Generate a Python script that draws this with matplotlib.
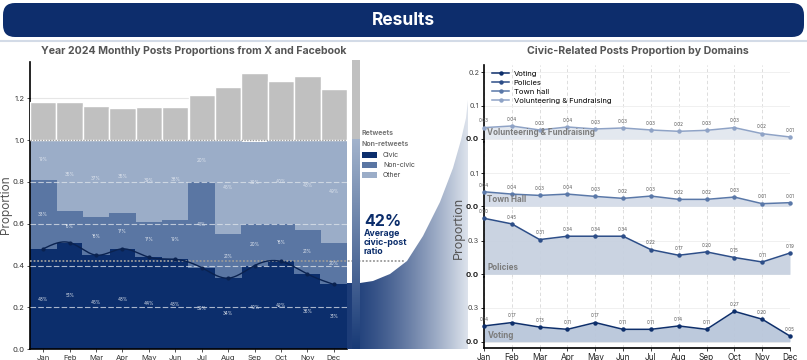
import numpy as np
import matplotlib
matplotlib.use("Agg")
import matplotlib.pyplot as plt
from matplotlib.patches import FancyBboxPatch, Rectangle, Polygon
from matplotlib.lines import Line2D
from matplotlib.colors import to_rgb

plt.rcParams['font.family'] = ['Inter', 'DejaVu Sans']

# ---------------- data ----------------
months = ['Jan', 'Feb', 'Mar', 'Apr', 'May', 'Jun', 'Jul', 'Aug', 'Sep', 'Oct', 'Nov', 'Dec']
civic = [0.48, 0.51, 0.45, 0.48, 0.44, 0.43, 0.39, 0.34, 0.40, 0.42, 0.36, 0.31]
noncivic = [0.33, 0.15, 0.18, 0.17, 0.17, 0.19, 0.41, 0.21, 0.20, 0.18, 0.21, 0.20]
other = [0.19, 0.35, 0.37, 0.35, 0.39, 0.38, 0.20, 0.45, 0.39, 0.40, 0.43, 0.49]
retweets = [0.182, 0.181, 0.165, 0.154, 0.156, 0.160, 0.214, 0.254, 0.322, 0.284, 0.308, 0.244]
avg_civic = 0.42

volunteering = [0.034, 0.039, 0.027, 0.036, 0.030, 0.033, 0.027, 0.023, 0.026, 0.034, 0.016, 0.006]
town_hall = [0.044, 0.037, 0.033, 0.037, 0.030, 0.024, 0.031, 0.021, 0.021, 0.028, 0.008, 0.011]
policies = [0.50, 0.45, 0.31, 0.34, 0.34, 0.34, 0.22, 0.17, 0.20, 0.15, 0.11, 0.19]
voting = [0.14, 0.17, 0.13, 0.11, 0.17, 0.11, 0.11, 0.14, 0.11, 0.27, 0.20, 0.05]

# ---------------- styles ----------------
NAVY = '#0b2d6b'
C_CIVIC = '#0c2e6c'
C_NONCIVIC = '#5a76a3'
C_OTHER = '#9badc8'
C_RT = '#c0c0c0'
TITLE_C = '#555555'

W, H = 807, 360
fig = plt.figure(figsize=(W / 100, H / 100), dpi=100)


def px_axes(x0, y0, x1, y1, **kw):
    return fig.add_axes([x0 / W, 1 - y1 / H, (x1 - x0) / W, (y1 - y0) / H], **kw)


def natural_cubic(x, y, xs):
    x = np.asarray(x, float); y = np.asarray(y, float)
    n = len(x); h = np.diff(x)
    A = np.zeros((n, n)); b = np.zeros(n)
    A[0, 0] = 1; A[-1, -1] = 1
    for i in range(1, n - 1):
        A[i, i - 1] = h[i - 1]; A[i, i] = 2 * (h[i - 1] + h[i]); A[i, i + 1] = h[i]
        b[i] = 3 * ((y[i + 1] - y[i]) / h[i] - (y[i] - y[i - 1]) / h[i - 1])
    c = np.linalg.solve(A, b)
    bb = (y[1:] - y[:-1]) / h - h * (2 * c[:-1] + c[1:]) / 3
    d = (c[1:] - c[:-1]) / (3 * h)
    idx = np.clip(np.searchsorted(x, xs) - 1, 0, n - 2)
    dx = xs - x[idx]
    return y[idx] + bb[idx] * dx + c[idx] * dx ** 2 + d[idx] * dx ** 3


# ---------------- left chart ----------------
ax = px_axes(30, 62, 347, 349.3)
ax.set_zorder(1)
x = np.arange(len(months))
civic_a = np.array(civic); nc_a = np.array(noncivic); ot_a = np.array(other)

ax.axhline(1.2, color='#e6e6e6', lw=0.8, zorder=0)
BW = 1.03
ax.bar(x, civic_a, width=BW, color=C_CIVIC, linewidth=0, zorder=2)
ax.bar(x, nc_a, bottom=civic_a, width=BW, color=C_NONCIVIC, linewidth=0, zorder=2)
ax.bar(x, ot_a, bottom=civic_a + nc_a, width=BW, color=C_OTHER, linewidth=0, zorder=1.9)
ax.bar(x, retweets, bottom=1.0, width=1.0, color=C_RT, edgecolor='white', linewidth=1.0, zorder=3)

for yv in [0.2, 0.4, 0.6, 0.8]:
    ax.axhline(yv, color='#dfe4ec', lw=0.8, ls=(0, (5, 2)), alpha=0.75, zorder=4)
ax.axhline(1.0, color='#9a9a9a', lw=1.0, ls=(0, (1, 1)), zorder=5)
ax.plot([-0.5, 13.65], [avg_civic, avg_civic], color='#9a9a9a', lw=1.3,
        ls=(0, (1, 1)), zorder=5, clip_on=False)

xs = np.linspace(0, 11, 300)
ax.plot(xs, natural_cubic(x, civic_a, xs), color='#0a2250', lw=1.0, zorder=6)
ax.plot(x, civic_a, 'o', color='#0a2250', ms=2, zorder=6)

lab_c = '#dfe5ee'
for i in range(len(months)):
    ax.text(i, civic_a[i] / 2, f"{round(civic_a[i] * 100)}%", ha='center', va='center',
            fontsize=3.3, color=lab_c, zorder=7)
    ax.text(i, civic_a[i] + nc_a[i] / 2, f"{round(nc_a[i] * 100)}%", ha='center', va='center',
            fontsize=3.3, color=lab_c, zorder=7)
    ax.text(i, civic_a[i] + nc_a[i] + ot_a[i] / 2, f"{round(ot_a[i] * 100)}%", ha='center',
            va='center', fontsize=3.3, color=lab_c, zorder=7)

ax.set_xlim(-0.5, 11.5)
ax.set_ylim(0, 1.373)
ax.set_xticks(x)
ax.set_xticklabels(months)
ax.set_yticks([0.0, 0.2, 0.4, 0.6, 0.8, 1.0, 1.2])
ax.set_yticklabels(['0.0', '0.2', '0.4', '0.6', '0.8', '1.0', '1.2'])
ax.tick_params(axis='both', labelsize=5.5, colors='#333333', length=2, width=0.6, pad=2)
for s in ['top', 'right']:
    ax.spines[s].set_visible(False)
for s in ['left', 'bottom']:
    ax.spines[s].set_color('black'); ax.spines[s].set_linewidth(1.2)
ax.set_facecolor('none')
fig.text(6.5 / W, 1 - 205 / H, 'Proportion', rotation=90, ha='center', va='center',
         fontsize=8.5, color=TITLE_C)

# ---------------- right chart (ridgeline panels) ----------------
panels = [
    ('Volunteering & Fundraising', volunteering, (65, 142), 139.0, 334.0, [0.0, 0.1, 0.2], '#8fa3c6', '#e2e7ef'),
    ('Town Hall', town_hall, (142, 209.3), 206.3, 330.0, [0.0, 0.1], '#5a78a8', '#d4dce8'),
    ('Policies', policies, (209.3, 277.3), 274.3, 112.0, [0.0, 0.3], '#2d4e88', '#c7d1e0'),
    ('Voting', voting, (277.3, 347.7), 341.7, 112.5, [0.0, 0.3], '#0e2f6b', '#b9c6da'),
]
rx0, rx1 = 484, 790
raxes = []
for k, (name, vals, (py0, py1), base, scale, ticks, lc, fc) in enumerate(panels):
    a = px_axes(rx0, py0, rx1, py1)
    a.set_zorder(3)
    a.set_facecolor('none')
    a.set_xlim(0, 11)
    a.set_ylim((base - py1) / scale, (base - py0) / scale)
    a.fill_between(x, 0, vals, color=fc, alpha=0.95, zorder=2, lw=0)
    a.plot(x, vals, color=lc, lw=1.1, marker='o', ms=2.2, zorder=3, clip_on=False)
    for i, v in enumerate(vals):
        a.annotate(f"{v:.2f}", (i, v), xytext=(0, 3), textcoords='offset points',
                   ha='center', va='bottom', fontsize=3.3, color='#555555', zorder=4,
                   annotation_clip=False)
    a.annotate(name, (0, 0), xytext=(2.5, 1.5), textcoords='offset points', ha='left',
               va='bottom', fontsize=5.8, fontweight='bold', color='#7c7c7c', zorder=5)
    a.set_yticks(ticks)
    a.set_yticklabels([f"{t:.1f}" for t in ticks])
    for t in a.get_yticklabels():
        if t.get_text() == '0.0':
            t.set_fontweight('bold'); t.set_color('#222222'); t.set_fontsize(5.6)
        else:
            t.set_color('#444444'); t.set_fontsize(5.2)
    a.tick_params(axis='y', length=2, width=0.6, pad=1.5)
    a.set_xticks(x)
    a.grid(axis='x', color='#d8d8d8', lw=0.6, ls=(0, (4, 3)), zorder=0)
    a.grid(axis='y', color='#eeeeee', lw=0.6, zorder=0)
    a.set_axisbelow(True)
    for s in ['top', 'right']:
        a.spines[s].set_visible(False)
    a.spines['left'].set_color('black'); a.spines['left'].set_linewidth(1.2)
    if k < 3:
        a.spines['bottom'].set_visible(False)
        a.tick_params(axis='x', length=0, labelbottom=False)
    else:
        a.spines['bottom'].set_color('black'); a.spines['bottom'].set_linewidth(1.2)
        a.set_xticklabels(months)
        a.tick_params(axis='x', labelsize=6, colors='#222222', length=2, width=0.6, pad=1.5)
    raxes.append(a)

handles = [Line2D([0], [0], color=p[6], lw=1.1, marker='o', ms=2.2) for p in
           [panels[3], panels[2], panels[1], panels[0]]]
raxes[0].legend(handles, ['Voting', 'Policies', 'Town hall', 'Volunteering & Fundraising'],
                loc='upper left', bbox_to_anchor=(0.01, 1.0), frameon=False, fontsize=5.5,
                handlelength=2.2, labelspacing=0.35, borderaxespad=0.3, handletextpad=0.6)
fig.text(459 / W, 1 - 228 / H, 'Proportion', rotation=90, ha='center', va='center',
         fontsize=9, color=TITLE_C, zorder=10)

# ---------------- overlay (banner, gradients, legend, annotation) ----------------
ov = fig.add_axes([0, 0, 1, 1])
ov.set_zorder(2)
ov.set_xlim(0, W); ov.set_ylim(H, 0)
ov.axis('off')
ov.patch.set_alpha(0)

ov.add_patch(FancyBboxPatch((3, 3), W - 6, 34, boxstyle='round,pad=0,rounding_size=12',
                            facecolor='#0d2d6c', edgecolor='none'))
ov.text(W / 2, 20.5, 'Results', ha='center', va='center', color='white', fontsize=12.5,
        fontweight='bold')
ov.plot([0, W], [40.5, 40.5], color='#d3dbe7', lw=1.5)

ov.text(194, 51, 'Year 2024 Monthly Posts Proportions from X and Facebook', ha='center',
        va='center', fontsize=7.6, fontweight='bold', color=TITLE_C)
ov.text(638, 51, 'Civic-Related Posts Proportion by Domains', ha='center', va='center',
        fontsize=7.6, fontweight='bold', color=TITLE_C)

# flowing gradient shape
curve = [(347, 283), (360, 283), (373, 281), (390, 274), (407, 261), (423, 236), (440, 202),
         (453, 168), (461, 140), (466, 118), (468, 100), (468, 349), (347, 349)]
poly = Polygon(curve, closed=True, facecolor='none', edgecolor='none')
ov.add_patch(poly)
n = 200
t = np.linspace(0, 1, n)
c0 = np.array(to_rgb('#1c3c78')); c1 = np.array(to_rgb('#dde3ec'))
tt = t ** 1.35
grad = (c0[None, :] * (1 - tt[:, None]) + c1[None, :] * tt[:, None])[None, :, :]
grad = np.repeat(grad, 2, axis=0)
im = ov.imshow(grad, extent=(347, 468, 349, 100), origin='upper', aspect='auto',
               interpolation='bilinear', zorder=1)
im.set_clip_path(poly)

# stripe
ov.add_patch(Rectangle((352, 60), 8, 79, facecolor=C_RT, edgecolor='none', zorder=2))
s0 = np.array(to_rgb('#a2b3cc')); s1 = np.array(to_rgb('#183a76'))
vv = np.linspace(0, 1, n)
sgrad = (s0[None, :] * (1 - vv[:, None]) + s1[None, :] * vv[:, None])[:, None, :]
sgrad = np.repeat(sgrad, 2, axis=1)
ov.imshow(sgrad, extent=(352, 360, 349, 139), origin='upper', aspect='auto',
          interpolation='bilinear', zorder=2)

# legend for left chart
ov.text(362, 133, 'Retweets', fontsize=5, fontweight='bold', color='#777777', va='center')
ov.text(362, 144, 'Non-retweets', fontsize=5, fontweight='bold', color='#777777', va='center')
for yy, col, lab in [(155, C_CIVIC, 'Civic'), (165, C_NONCIVIC, 'Non-civic'), (175, C_OTHER, 'Other')]:
    ov.add_patch(Rectangle((362, yy - 3), 15, 6, facecolor=col, edgecolor='none', zorder=3))
    ov.text(383, yy, lab, fontsize=5, color='#444444', va='center')

ov.text(364, 221, f"{round(avg_civic * 100)}%", fontsize=11.5, fontweight='bold', color=NAVY,
        va='center', ha='left')
ov.text(364, 242.5, 'Average\ncivic-post\nratio', fontsize=6.3, fontweight='bold', color=NAVY,
        va='center', ha='left', linespacing=0.95)

ov.set_xlim(0, W); ov.set_ylim(H, 0)

fig.savefig('out.png', dpi=100)
